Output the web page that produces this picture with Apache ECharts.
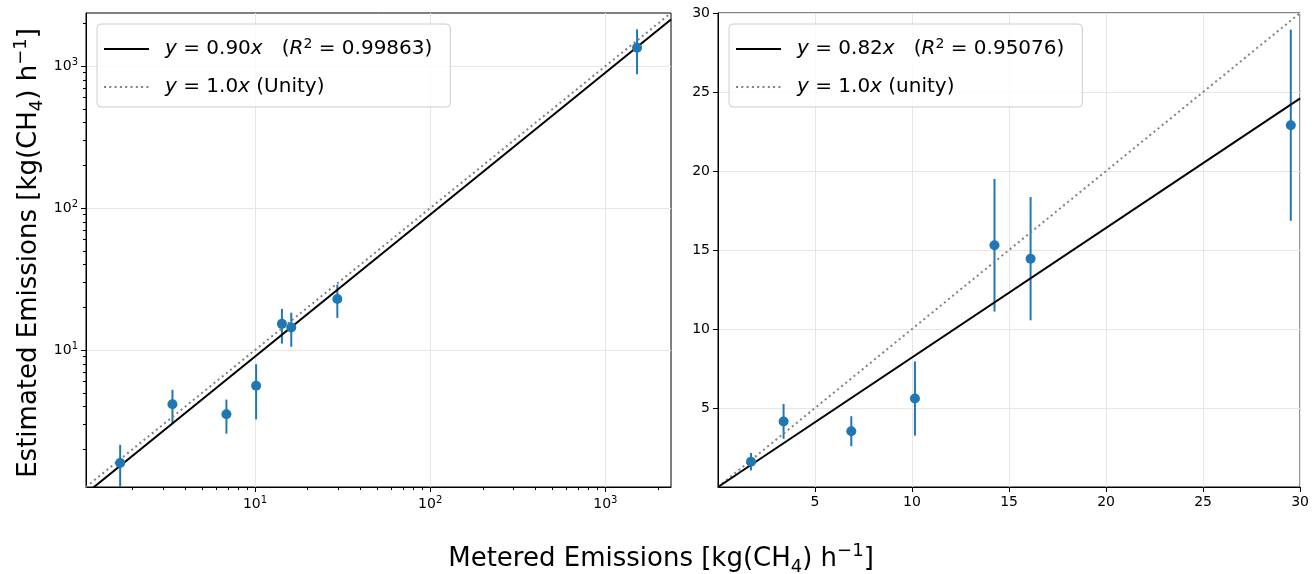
<!DOCTYPE html>
<html>
<head>
<meta charset="utf-8">
<script src="https://cdn.jsdelivr.net/npm/echarts@6/dist/echarts.min.js"></script>
<style>
  html, body { margin: 0; padding: 0; background: #fff; }
  #chart { width: 1312px; height: 574px; }
</style>
</head>
<body>
<div id="chart"></div>
<script>
// Controlled CH4 releases: metered rate vs. estimated rate (kg/h), with 1-sigma error
const metered   = [1.70, 3.38, 6.87, 10.15, 14.25, 16.11, 29.52, 1517];
const estimated = [1.60, 4.15, 3.53, 5.60, 15.30, 14.45, 22.90, 1347];
const estErr    = [0.55, 1.10, 0.95, 2.35, 4.20, 3.90, 6.05, 470];
// the linear panel only shows releases below 30 kg/h
const linearCount = 7;

// through-origin fits (left: all releases, right: small releases)
const fitSlopes = [0.90, 0.82];
const fitR2 = ['0.99863', '0.95076'];
const unitySlope = 1.0;
const unityWord = ['Unity', 'unity'];

// axis ranges and ticks
const logLimits = [1.085, 2370];
const linLimits = [0, 30];
const logMajorTicks = [10, 100, 1000];
const logMinorTicks = [2, 3, 4, 5, 6, 7, 8, 9, 20, 30, 40, 50, 60, 70, 80, 90,
                       200, 300, 400, 500, 600, 700, 800, 900, 2000];
const linTickStep = 5;

const BLUE = '#1f77b4';
const FONT = 'DejaVu Sans';

const supRich = {
  n:   { fontFamily: FONT, fontSize: 14, color: '#000', lineHeight: 18 },
  sup: { fontFamily: FONT, fontSize: 10, color: '#000', lineHeight: 10, verticalAlign: 'top' }
};

function logLabel(v) {
  return '{n|10}{sup|' + Math.round(Math.log10(v)) + '}';
}

function errorBars(xi, yi, xs, ys, es) {
  return {
    type: 'custom', xAxisIndex: xi, yAxisIndex: yi, clip: true, z: 3,
    silent: true,
    data: xs.map((x, i) => [x, ys[i] - es[i], ys[i] + es[i]]),
    renderItem(params, api) {
      const lo = api.coord([api.value(0), api.value(1)]);
      const hi = api.coord([api.value(0), api.value(2)]);
      return {
        type: 'line',
        shape: { x1: lo[0], y1: lo[1], x2: hi[0], y2: hi[1] },
        style: { stroke: BLUE, lineWidth: 2 }
      };
    }
  };
}

function points(xi, yi, xs, ys) {
  return {
    type: 'scatter', xAxisIndex: xi, yAxisIndex: yi, z: 5, silent: true,
    symbolSize: 10, itemStyle: { color: BLUE, opacity: 1 },
    data: xs.map((x, i) => [x, ys[i]])
  };
}

function refLine(name, xi, yi, lim, slope, style) {
  return {
    name, type: 'line', xAxisIndex: xi, yAxisIndex: yi, z: 4, silent: true,
    symbol: 'none', clip: true,
    itemStyle: { color: style.color },
    lineStyle: style,
    data: [[lim[0], slope * lim[0]], [lim[1], slope * lim[1]]]
  };
}

const solid = { color: '#000', width: 2, type: 'solid' };
const dotted = { color: '#808080', width: 2, type: [2, 3.3], cap: 'butt' };

const legendRich = {
  g: { width: 11, fontSize: 20, lineHeight: 24 },
  i: { fontFamily: FONT, fontStyle: 'italic', fontSize: 20, color: '#000', lineHeight: 24 },
  n: { fontFamily: FONT, fontSize: 20, color: '#000', lineHeight: 24 },
  s: { fontFamily: FONT, fontSize: 14, color: '#000', lineHeight: 12, verticalAlign: 'top' }
};

function fitText(k) {
  return '{g| }{i|y}{n| = ' + fitSlopes[k].toFixed(2) + '}{i|x}{n|   (}{i|R}{s|2}{n| = ' + fitR2[k] + ')}';
}
function unityText(k) {
  return '{g| }{i|y}{n| = ' + unitySlope.toFixed(1) + '}{i|x}{n| (' + unityWord[k] + ')}';
}
const legendText = {
  fitL: fitText(0), unityL: unityText(0),
  fitR: fitText(1), unityR: unityText(1)
};

function legendBox(names, left) {
  return {
    data: names, left, top: 24, orient: 'vertical', selectedMode: false,
    itemWidth: 45, itemHeight: 20, itemGap: 18,
    padding: [13, 18, 10, 6],
    backgroundColor: 'rgba(255,255,255,0.8)',
    borderColor: '#cccccc', borderWidth: 1, borderRadius: 4,
    itemStyle: { opacity: 0 },
    formatter: name => legendText[name],
    textStyle: { rich: legendRich }
  };
}

const axisLineBlack = { show: true, lineStyle: { color: '#000', width: 1 } };
const gridLine = { show: true, lineStyle: { color: '#e6e6e6', width: 1 } };
const tickOut = { show: true, inside: false, length: 5, lineStyle: { color: '#000', width: 1 } };
const linLabel = { showMinLabel: false, fontFamily: FONT, fontSize: 14, color: '#000', margin: 8 };

const titleRich = {
  t:   { fontFamily: FONT, fontSize: 26, color: '#000', lineHeight: 34 },
  sub: { fontFamily: FONT, fontSize: 18, color: '#000', lineHeight: 24, verticalAlign: 'bottom' },
  sup: { fontFamily: FONT, fontSize: 18, color: '#000', lineHeight: 16, verticalAlign: 'top' }
};
const unitTitle = word => '{t|' + word + ' Emissions [kg(CH}{sub|4}{t|) h}{sup|−1}{t|]}';

const linX = metered.slice(0, linearCount);
const linY = estimated.slice(0, linearCount);
const linE = estErr.slice(0, linearCount);

const option = {
  animation: false,
  backgroundColor: '#fff',
  grid: [
    { left: 86, top: 13, width: 585, height: 474, show: true, borderColor: '#000', borderWidth: 1, backgroundColor: 'transparent' },
    { left: 718, top: 13, width: 585, height: 474, show: true, borderColor: '#000', borderWidth: 1, backgroundColor: 'transparent' }
  ],
  xAxis: [
    { type: 'log', logBase: 10, gridIndex: 0, min: logLimits[0], max: logLimits[1],
      axisLine: axisLineBlack,
      axisTick: Object.assign({ customValues: logMajorTicks }, tickOut),
      axisLabel: { customValues: logMajorTicks, formatter: logLabel, rich: supRich, margin: 8 },
      splitLine: gridLine },
    { type: 'value', gridIndex: 1, min: linLimits[0], max: linLimits[1], interval: linTickStep,
      axisLine: axisLineBlack, axisTick: tickOut, axisLabel: linLabel, splitLine: gridLine },
    // minor ticks of the log x axis
    { type: 'log', logBase: 10, gridIndex: 0, position: 'bottom', min: logLimits[0], max: logLimits[1],
      axisLine: { show: false },
      axisTick: { show: true, inside: false, length: 3, customValues: logMinorTicks, lineStyle: { color: '#000', width: 1 } },
      axisLabel: { show: false }, splitLine: { show: false } }
  ],
  yAxis: [
    { type: 'log', logBase: 10, gridIndex: 0, min: logLimits[0], max: logLimits[1],
      axisLine: axisLineBlack,
      axisTick: Object.assign({ customValues: logMajorTicks }, tickOut),
      axisLabel: { customValues: logMajorTicks, formatter: logLabel, rich: supRich, margin: 8 },
      splitLine: gridLine },
    { type: 'value', gridIndex: 1, min: linLimits[0], max: linLimits[1], interval: linTickStep,
      axisLine: axisLineBlack, axisTick: tickOut, axisLabel: linLabel, splitLine: gridLine },
    // minor ticks of the log y axis
    { type: 'log', logBase: 10, gridIndex: 0, position: 'left', min: logLimits[0], max: logLimits[1],
      axisLine: { show: false },
      axisTick: { show: true, inside: false, length: 3, customValues: logMinorTicks, lineStyle: { color: '#000', width: 1 } },
      axisLabel: { show: false }, splitLine: { show: false } }
  ],
  legend: [
    legendBox(['fitL', 'unityL'], 97),
    legendBox(['fitR', 'unityR'], 729)
  ],
  graphic: [
    { type: 'text', x: 661, y: 559,
      style: { text: unitTitle('Metered'), rich: titleRich, align: 'center', verticalAlign: 'middle' } },
    { type: 'text', x: 29, y: 253, rotation: Math.PI / 2,
      style: { text: unitTitle('Estimated'), rich: titleRich, align: 'center', verticalAlign: 'middle' } }
  ],
  series: [
    refLine('unityL', 0, 0, logLimits, unitySlope, dotted),
    refLine('fitL', 0, 0, logLimits, fitSlopes[0], solid),
    errorBars(0, 0, metered, estimated, estErr),
    points(0, 0, metered, estimated),
    refLine('unityR', 1, 1, linLimits, unitySlope, dotted),
    refLine('fitR', 1, 1, linLimits, fitSlopes[1], solid),
    errorBars(1, 1, linX, linY, linE),
    points(1, 1, linX, linY)
  ]
};

const chart = echarts.init(document.getElementById('chart'), null, { renderer: 'canvas' });
chart.setOption(option);
</script>
</body>
</html>
